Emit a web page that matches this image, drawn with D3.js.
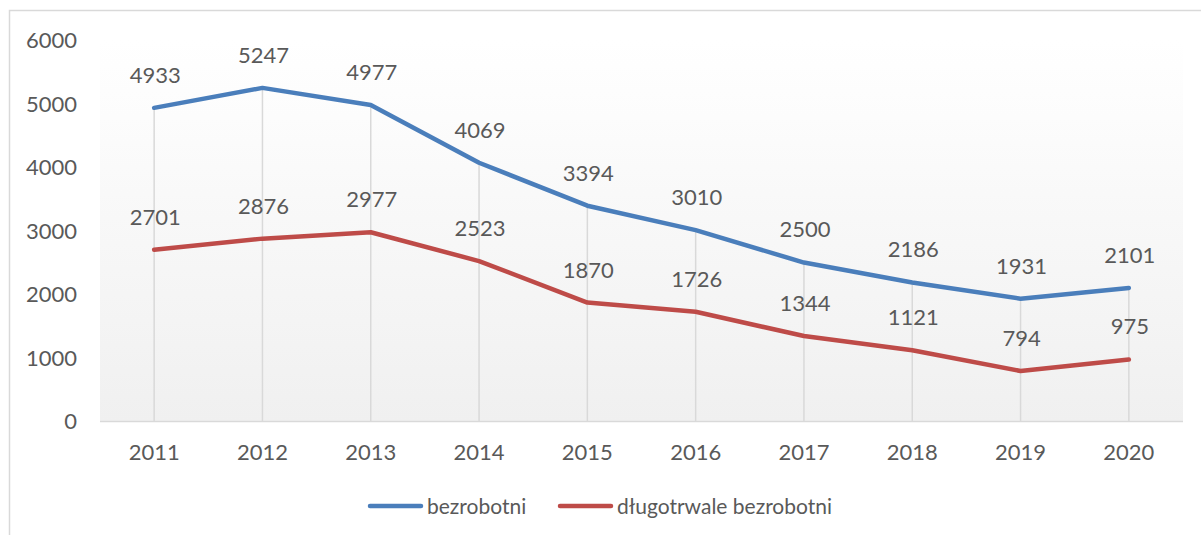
<!DOCTYPE html>
<html>
<head>
<meta charset="utf-8">
<script src="https://cdn.jsdelivr.net/npm/d3@7"></script>
<style>
  html, body { margin: 0; padding: 0; background: #fff; }
  svg text { font-family: Lato, "Open Sans", sans-serif; fill: #595959; }
</style>
</head>
<body>
<div id="chart"></div>
<script>
'use strict';

var years = ['2011', '2012', '2013', '2014', '2015', '2016', '2017', '2018', '2019', '2020'];
var bezrobotni = [4933, 5247, 4977, 4069, 3394, 3010, 2500, 2186, 1931, 2101];
var dlugotrwale = [2701, 2876, 2977, 2523, 1870, 1726, 1344, 1121, 794, 975];
var yTicks = [0, 1000, 2000, 3000, 4000, 5000, 6000];
var seriesNames = ['bezrobotni', 'długotrwale bezrobotni'];
var seriesColors = ['#4a7ebb', '#be4b48'];

var width = 1201, height = 535;
var plot = { left: 100, right: 1183, top: 40, bottom: 422 };
var fontSize = 22;

var svg = d3.select('#chart')
    .append('svg')
    .attr('width', width)
    .attr('height', height);

// chart border (right/bottom sides fall outside the picture)
svg.append('rect')
    .attr('x', 9.5).attr('y', 10.5)
    .attr('width', 1300).attr('height', 700)
    .attr('fill', '#fff')
    .attr('stroke', '#d9d9d9')
    .attr('stroke-width', 1.5);

var grad = svg.append('defs').append('linearGradient')
    .attr('id', 'plotbg')
    .attr('x1', 0).attr('y1', 0).attr('x2', 0).attr('y2', 1);
grad.append('stop').attr('offset', '0%').attr('stop-color', '#ffffff');
grad.append('stop').attr('offset', '100%').attr('stop-color', '#f0f0f0');

svg.append('rect')
    .attr('x', plot.left).attr('y', plot.top)
    .attr('width', plot.right - plot.left).attr('height', plot.bottom - plot.top)
    .attr('fill', 'url(#plotbg)');

var x = d3.scaleBand()
    .domain(years)
    .range([plot.left, plot.right]);

var y = d3.scaleLinear()
    .domain([0, 6000])
    .range([plot.bottom - 0.5, plot.top]);

function cx(d) { return x(d) + x.bandwidth() / 2; }

// drop lines from the highest point down to the axis
svg.append('g').selectAll('line')
    .data(years)
    .enter().append('line')
    .attr('x1', cx).attr('x2', cx)
    .attr('y1', function(d, i) { return y(Math.max(bezrobotni[i], dlugotrwale[i])); })
    .attr('y2', y(0))
    .attr('stroke', '#d9d9d9')
    .attr('stroke-width', 1.5);

// category axis line
svg.append('line')
    .attr('x1', plot.left).attr('x2', plot.right)
    .attr('y1', y(0)).attr('y2', y(0))
    .attr('stroke', '#d9d9d9')
    .attr('stroke-width', 1.5);

// value axis labels
svg.append('g').selectAll('text')
    .data(yTicks)
    .enter().append('text')
    .attr('x', 77)
    .attr('y', function(d) { return y(d); })
    .attr('dy', '0.36em')
    .attr('text-anchor', 'end')
    .attr('font-size', fontSize)
    .text(function(d) { return d; });

// category labels
svg.append('g').selectAll('text')
    .data(years)
    .enter().append('text')
    .attr('x', cx)
    .attr('y', 452)
    .attr('dy', '0.36em')
    .attr('text-anchor', 'middle')
    .attr('font-size', fontSize)
    .text(function(d) { return d; });

var line = d3.line()
    .x(function(d, i) { return cx(years[i]); })
    .y(function(d) { return y(d); });

[bezrobotni, dlugotrwale].forEach(function(series, s) {
    svg.append('path')
        .datum(series)
        .attr('d', line)
        .attr('fill', 'none')
        .attr('stroke', seriesColors[s])
        .attr('stroke-width', 4.5)
        .attr('stroke-linejoin', 'round')
        .attr('stroke-linecap', 'round');

    svg.append('g').selectAll('text')
        .data(series)
        .enter().append('text')
        .attr('x', function(d, i) { return cx(years[i]) + 1; })
        .attr('y', function(d) { return y(d) - 33; })
        .attr('dy', '0.36em')
        .attr('text-anchor', 'middle')
        .attr('font-size', fontSize)
        .text(function(d) { return d; });
});

// legend
var legendX = [370, 560];
var legend = svg.append('g').selectAll('g')
    .data(seriesNames)
    .enter().append('g')
    .attr('transform', function(d, i) { return 'translate(' + legendX[i] + ',506)'; });

legend.append('line')
    .attr('x1', 0).attr('x2', 51)
    .attr('y1', 0).attr('y2', 0)
    .attr('stroke', function(d, i) { return seriesColors[i]; })
    .attr('stroke-width', 4.5)
    .attr('stroke-linecap', 'round');

legend.append('text')
    .attr('x', 57)
    .attr('y', 0)
    .attr('dy', '0.36em')
    .attr('font-size', 21)
    .text(function(d) { return d; });
</script>
</body>
</html>
